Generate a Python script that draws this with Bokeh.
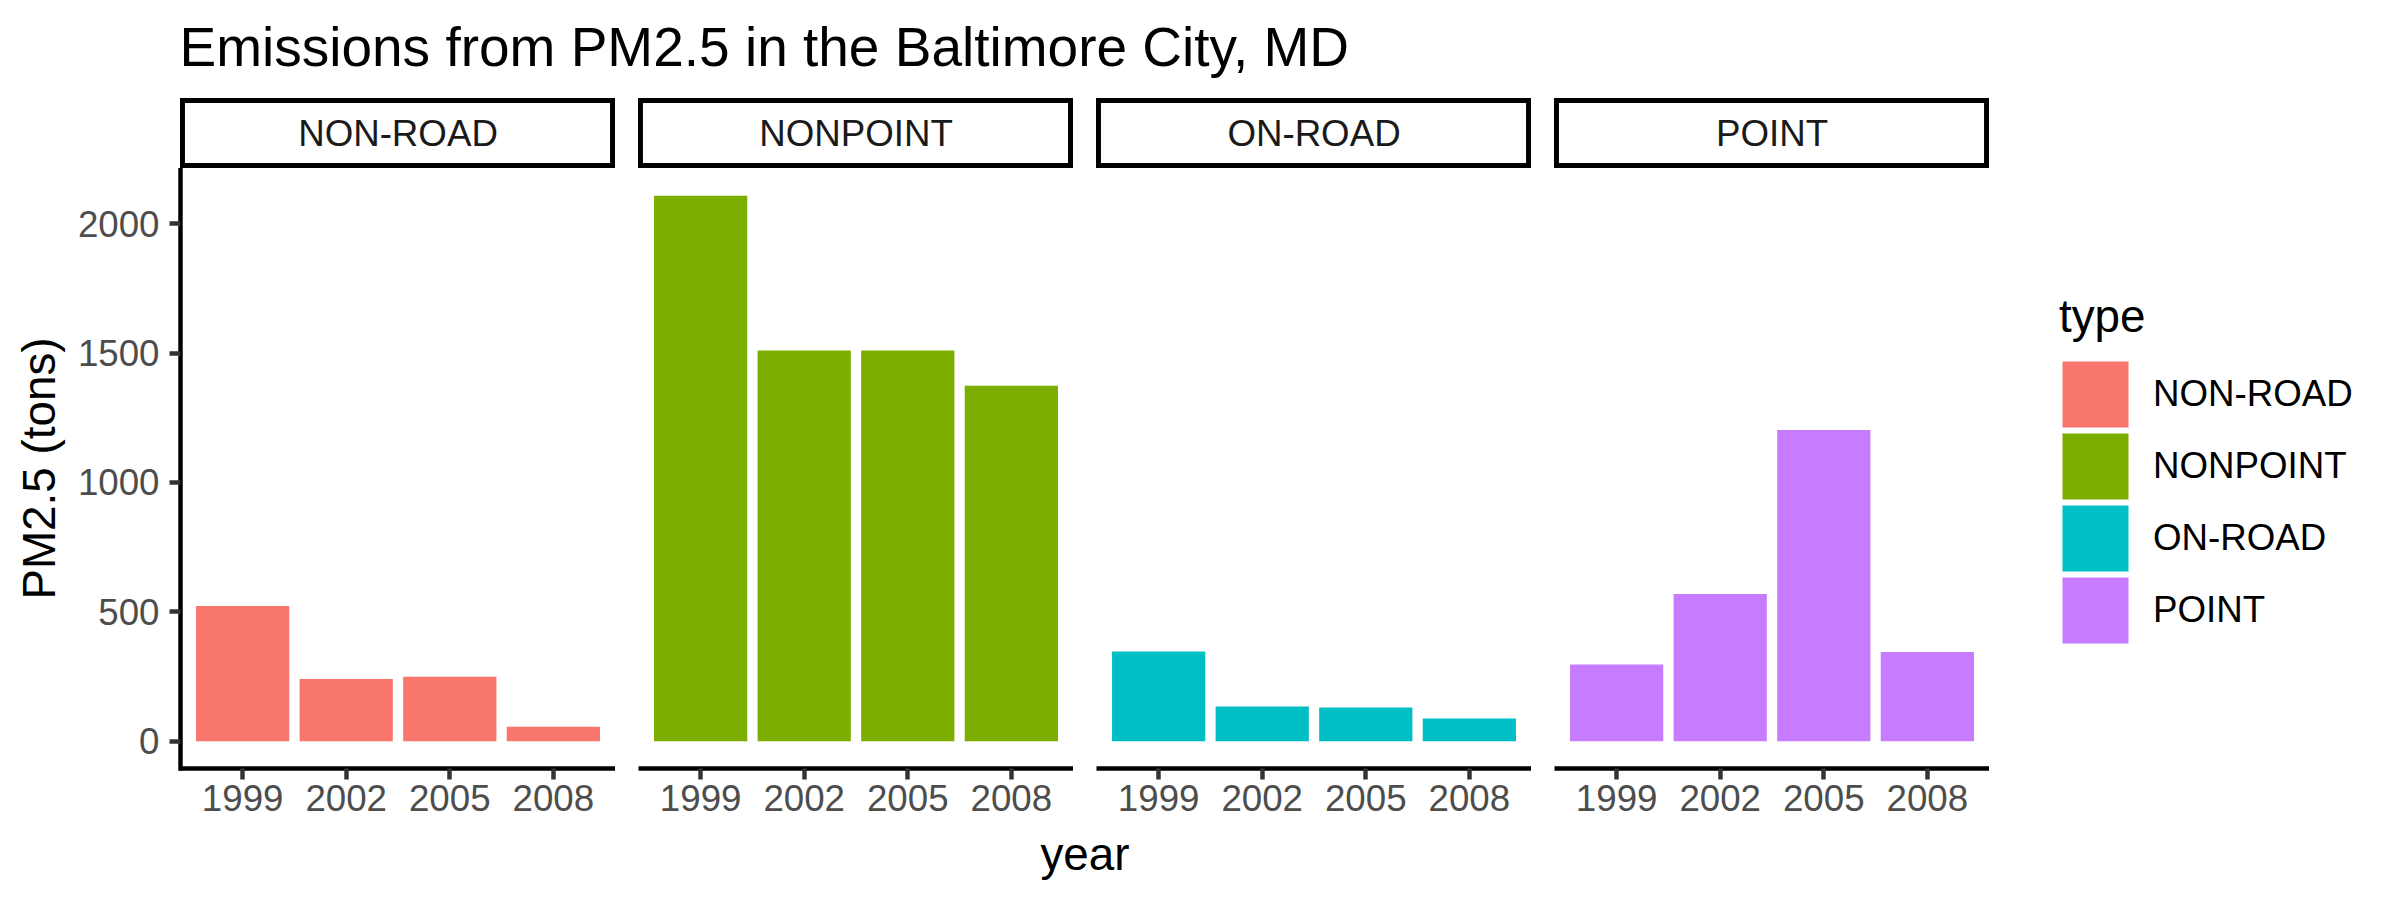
from bokeh.plotting import figure
from bokeh.models import (FactorRange, Range1d, FixedTicker, Label, Legend,
                          LegendItem, ColumnDataSource, Spacer)
from bokeh.layouts import row, column
from bokeh.embed import file_html
from bokeh.resources import INLINE
from bokeh.core.properties import value
from bokeh.core.validation import silence
from bokeh.core.validation.warnings import MISSING_RENDERERS

silence(MISSING_RENDERERS, True)

# ---------------- data ----------------
types = ["NON-ROAD", "NONPOINT", "ON-ROAD", "POINT"]
years = ["1999", "2002", "2005", "2008"]
nonroad_tons = [522.94, 240.85, 248.93, 55.82]
nonpoint_tons = [2107.63, 1509.50, 1509.50, 1373.21]
onroad_tons = [346.82, 134.31, 130.43, 88.28]
point_tons = [296.80, 569.26, 1202.49, 344.98]
type_colors = ["#F8766D", "#7CAE00", "#00BFC4", "#C77CFF"]
y_ticks = [0, 500, 1000, 1500, 2000]

title_text = "Emissions from PM2.5 in the Baltimore City, MD"
x_title = "year"
y_title = "PM2.5 (tons)"
legend_title = "type"

series = [nonroad_tons, nonpoint_tons, onroad_tons, point_tons]

# ---------------- style ----------------
FONT = "Liberation Sans"
LW = 4.45
PANEL_W = 435
GAP = 23
YAX_W = 180
STRIP_H = 70
PANEL_FRAME_H = 600
PANEL_BOTTOM = 58
PANEL_H = PANEL_FRAME_H + PANEL_BOTTOM
TITLE_H = 98
XLAB_H = 900 - TITLE_H - STRIP_H - PANEL_H
LEG_W = 2400 - YAX_W - 4 * PANEL_W - 3 * GAP

y_max = max(max(s) for s in series)
y_lo, y_hi = -0.05 * y_max, 1.05 * y_max


def blank(w, h):
    p = figure(width=w, height=h, x_range=Range1d(0, 1), y_range=Range1d(0, 1),
               x_axis_type=None, y_axis_type=None, title=None,
               toolbar_location=None, output_backend="svg", min_border=0)
    p.outline_line_color = None
    p.background_fill_color = "white"
    p.border_fill_color = "white"
    return p


# title
title_fig = blank(2400, TITLE_H)
title_fig.add_layout(Label(x=179, y=51.8, x_units="screen", y_units="screen",
                           text=title_text, text_font=FONT, text_font_size="55px",
                           text_color="black", text_baseline="alphabetic", text_align="left"))

# strips
strip_children = [Spacer(width=YAX_W, height=STRIP_H)]
for i, t in enumerate(types):
    s = figure(width=PANEL_W, height=STRIP_H, x_range=FactorRange(factors=[t]),
               y_range=Range1d(-1, 1), x_axis_type=None, y_axis_type=None, title=None,
               toolbar_location=None, output_backend="svg", min_border=0)
    s.outline_line_color = "black"
    s.outline_line_width = 2 * LW
    s.background_fill_color = "white"
    s.border_fill_color = "white"
    s.text(x=[t], y=[0], text=[t], text_align="center", text_baseline="middle",
           text_font=value(FONT), text_font_size="36.7px", text_color="#1A1A1A")
    strip_children.append(s)
    if i < len(types) - 1:
        strip_children.append(Spacer(width=GAP, height=STRIP_H))
strip_children.append(Spacer(width=LEG_W, height=STRIP_H))

# panels
panel_children = []
sources = []
for i, (t, vals, c) in enumerate(zip(types, series, type_colors)):
    left = YAX_W if i == 0 else GAP
    p = figure(width=left + PANEL_W, height=PANEL_H,
               x_range=FactorRange(factors=years, range_padding=0.1,
                                   range_padding_units="absolute"),
               y_range=Range1d(y_lo, y_hi), title=None,
               y_axis_location="left" if i == 0 else None,
               toolbar_location=None, output_backend="svg",
               min_border_left=left, min_border_right=0, min_border_top=0,
               min_border_bottom=PANEL_BOTTOM)
    src = ColumnDataSource(data=dict(year=years, tons=vals))
    sources.append(src)
    p.vbar(x="year", top="tons", width=0.9, source=src, fill_color=c, line_color=None)
    p.xgrid.visible = False
    p.ygrid.visible = False
    p.outline_line_color = None
    p.background_fill_color = "white"
    p.border_fill_color = "white"
    axes = list(p.xaxis) + (list(p.yaxis) if i == 0 else [])
    for ax in axes:
        ax.axis_line_color = "black"
        ax.axis_line_width = LW
        ax.major_tick_line_color = "#333333"
        ax.major_tick_line_width = LW
        ax.major_tick_out = 11
        ax.major_tick_in = 0
        ax.minor_tick_line_color = None
        ax.major_label_text_font = FONT
        ax.major_label_text_font_size = "36.7px"
        ax.major_label_text_color = "#4D4D4D"
    p.xaxis.major_label_standoff = 5
    if i == 0:
        yax = p.yaxis[0]
        yax.ticker = FixedTicker(ticks=y_ticks)
        yax.major_label_standoff = 10
        yax.axis_line_cap = "square"
        yax.axis_label = y_title
        yax.axis_label_text_font = FONT
        yax.axis_label_text_font_size = "45.8px"
        yax.axis_label_text_font_style = "normal"
        yax.axis_label_text_color = "black"
        yax.axis_label_standoff = 10
    panel_children.append(p)

# legend (hidden copies of the panel bars provide the keys)
leg_fig = figure(width=LEG_W, height=PANEL_H, x_range=FactorRange(factors=years),
                 y_range=Range1d(y_lo, y_hi), x_axis_type=None, y_axis_type=None,
                 title=None, toolbar_location=None, output_backend="svg",
                 min_border_left=0, min_border_top=0, min_border_right=0,
                 min_border_bottom=0)
leg_fig.xgrid.visible = False
leg_fig.ygrid.visible = False
leg_fig.outline_line_color = None
leg_fig.background_fill_color = "white"
leg_fig.border_fill_color = "white"
items = []
for t, c, src in zip(types, type_colors, sources):
    r = leg_fig.vbar(x="year", top="tons", width=0.9, source=src, fill_color=c,
                     line_color=c, line_width=8.4, line_join="miter", visible=False)
    items.append(LegendItem(label=t, renderers=[r]))
legend = Legend(items=items, title=legend_title, location=(70, 122),
                glyph_width=72, glyph_height=72, spacing=0, padding=0, margin=0,
                label_standoff=22, label_text_font=FONT, label_text_font_size="36.7px",
                label_text_color="black", title_text_font=FONT,
                title_text_font_size="45.8px", title_text_font_style="normal",
                title_text_color="black", title_standoff=15,
                border_line_color=None, background_fill_alpha=0,
                inactive_fill_alpha=0, click_policy="none")
leg_fig.add_layout(legend)
panel_children.append(leg_fig)

# x title
xlab_fig = blank(2400, XLAB_H)
xlab_fig.add_layout(Label(x=YAX_W + (4 * PANEL_W + 3 * GAP) / 2, y=45.7,
                          x_units="screen", y_units="screen", text=x_title,
                          text_font=FONT, text_font_size="45.8px", text_color="black",
                          text_align="center", text_baseline="alphabetic"))

layout = column(title_fig, row(*strip_children), row(*panel_children), xlab_fig)

with open("out.html", "w") as f:
    f.write(file_html(layout, INLINE))
